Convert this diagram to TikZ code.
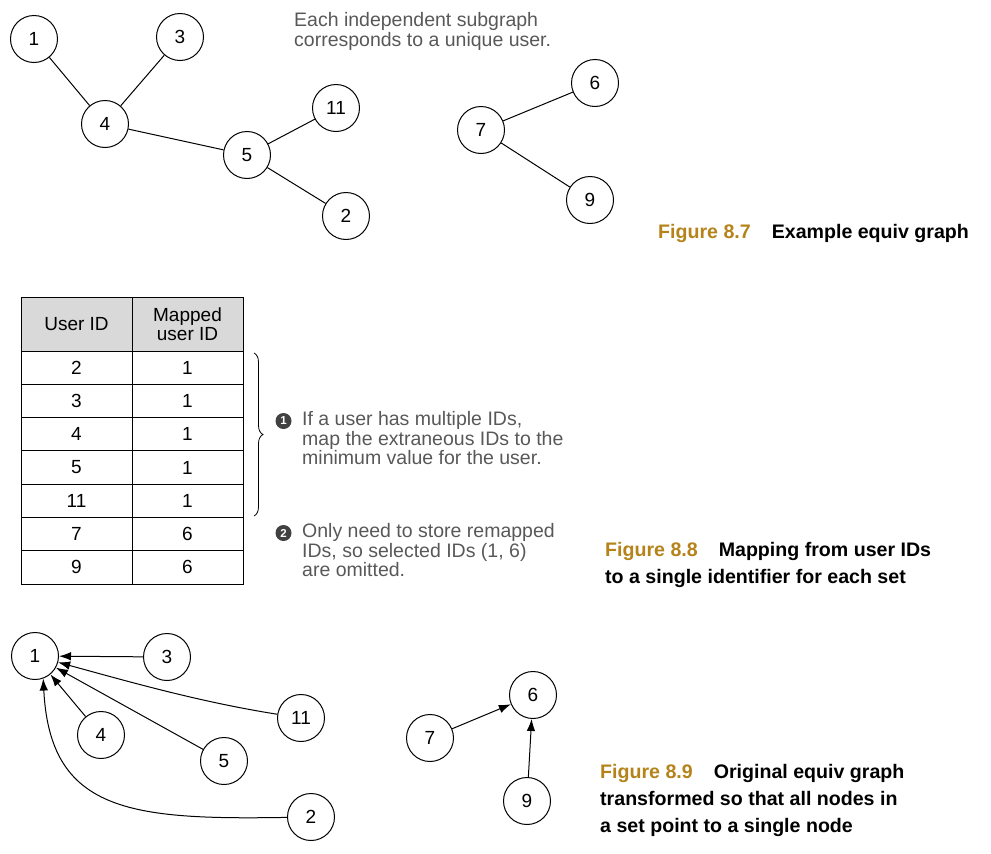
\documentclass[tikz,border=0pt]{standalone}
\usepackage{fontspec}
\setmainfont{Liberation Sans}
\usetikzlibrary{arrows.meta,decorations.pathreplacing}
\definecolor{figgold}{RGB}{181,131,26}
\definecolor{notegray}{RGB}{88,88,88}
\definecolor{headgray}{RGB}{217,217,217}
\definecolor{bulletgray}{RGB}{65,65,65}
\begin{document}
\begin{tikzpicture}[x=1pt,y=-1pt,
  vert/.style={circle,draw,line width=1pt,minimum size=47pt,inner sep=0pt,font=\fontsize{19}{19}\selectfont},
  edge/.style={line width=1pt},
  arr/.style={line width=1pt,-{Latex[length=12pt,width=8.5pt]}},
  note/.style={anchor=north west,inner sep=0pt,align=left,text=notegray,font=\fontsize{19.5}{17.5}\selectfont},
  figcap/.style={anchor=base west,inner sep=0pt,font=\fontsize{19.6}{19.6}\selectfont\bfseries},
  cell/.style={draw,line width=1pt,minimum width=111pt,minimum height=33.3pt,inner sep=0pt,font=\fontsize{19}{19}\selectfont},
  hcell/.style={cell,fill=headgray,minimum height=54pt,align=center,font=\fontsize{19}{19}\selectfont},
  bullet/.style={circle,fill=bulletgray,text=white,inner sep=0pt,minimum size=16pt,font=\fontsize{11.5}{11.5}\selectfont\bfseries}
]
\useasboundingbox (0,0) rectangle (991,854);
% ---------- Figure 8.7 ----------
\node[vert] (a1) at (34,39) {1};
\node[vert] (a3) at (180,37) {3};
\node[vert] (a4) at (105,124) {4};
\node[vert] (a5) at (247,155) {5};
\node[vert] (a11) at (336,108) {11};
\node[vert] (a2) at (346,216) {2};
\node[vert] (a7) at (481,130) {7};
\node[vert] (a6) at (595,83) {6};
\node[vert] (a9) at (590,200) {9};
\draw[edge] (a1) -- (a4);
\draw[edge] (a3) -- (a4);
\draw[edge] (a4) -- (a5);
\draw[edge] (a5) -- (a11);
\draw[edge] (a5) -- (a2);
\draw[edge] (a7) -- (a6);
\draw[edge] (a7) -- (a9);
\node[note] (t1) at (294,12.5) {Each independent subgraph\\corresponds to a unique user.};
\node[figcap] (c1) at (658,238) {\textcolor{figgold}{Figure 8.7}\hspace{21pt}Example equiv graph};
% ---------- Figure 8.8 ----------
\node[hcell] (h1) at (76.5,324) {User ID};
\node[hcell] (h2) at (187.5,324) {Mapped\\user ID};
\foreach \u/\m/\y [count=\i] in {2/1/367.65,3/1/400.95,4/1/434.25,5/1/467.55,11/1/500.85,7/6/534.15,9/6/567.45}{
  \node[cell] (u\i) at (76.5,\y) {\u};
  \node[cell] (m\i) at (187.5,\y) {\m};
}
\draw[line width=0.8pt,decorate,decoration={brace,amplitude=9pt}] (254,353) -- (254,516);
\node[bullet] (b1) at (283.5,421) {1};
\node[note] (n1) at (302,411.5) {If a user has multiple IDs,\\map the extraneous IDs to the\\minimum value for the user.};
\node[bullet] (b2) at (283.5,533) {2};
\node[note] (n2) at (302,523.5) {Only need to store remapped\\IDs, so selected IDs (1, 6)\\are omitted.};
\node[figcap] (c2) at (605,556) {\textcolor{figgold}{Figure 8.8}\hspace{21pt}Mapping from user IDs};
\node[figcap] (c2b) at (605,583) {to a single identifier for each set};
% ---------- Figure 8.9 ----------
\node[vert] (b1n) at (35,656) {1};
\node[vert] (b3n) at (167,657) {3};
\node[vert] (b4n) at (101,735) {4};
\node[vert] (b5n) at (224,761) {5};
\node[vert] (b11n) at (301,718) {11};
\node[vert] (b2n) at (311,817) {2};
\node[vert] (b7n) at (430,738) {7};
\node[vert] (b6n) at (533,695) {6};
\node[vert] (b9n) at (527,801) {9};
\draw[arr] (b3n) -- (b1n);
\draw[arr] (b11n) .. controls (200,702) and (130,682) .. (b1n);
\draw[arr] (b5n) -- (b1n);
\draw[arr] (b4n) -- (b1n);
\draw[arr] (b2n) .. controls (130,820) and (50,812) .. (b1n.-70);
\draw[arr] (b7n) -- (b6n);
\draw[arr] (b9n) -- (b6n);
\node[figcap] (c3) at (600,778) {\textcolor{figgold}{Figure 8.9}\hspace{21pt}Original equiv graph};
\node[figcap] (c3b) at (600,805) {transformed so that all nodes in};
\node[figcap] (c3c) at (600,832) {a set point to a single node};
\end{tikzpicture}
\end{document}
